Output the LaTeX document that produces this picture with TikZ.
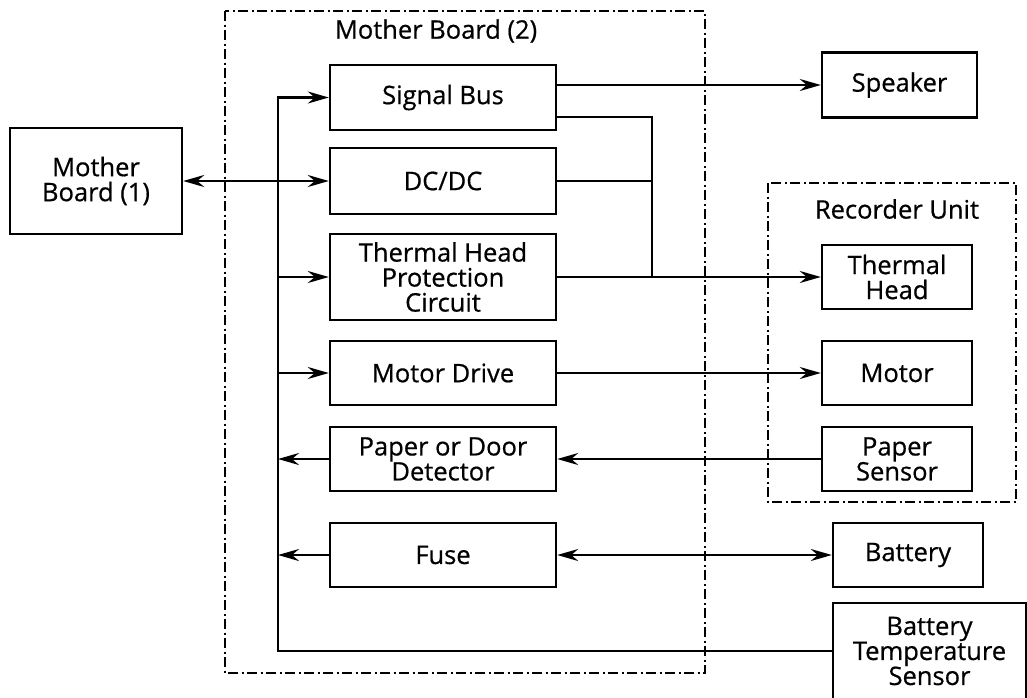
\documentclass[tikz,border=0pt]{standalone}
\usepackage{fontspec}
\setmainfont{Open Sans}[FakeBold=0.6]
\usepackage{tikz}
\usetikzlibrary{arrows.meta,positioning,calc}
\definecolor{bdedge}{RGB}{0,0,0}
\tikzset{
  bdbox/.style={
    draw=bdedge, line width=2.4pt, align=center, inner sep=2pt,
    font=\fontsize{25.5}{25}\selectfont
  },
  blk/.style={bdbox, minimum width=226pt, minimum height=64pt},
  ext/.style={bdbox, minimum width=150pt, minimum height=64pt},
  grp/.style={
    draw=bdedge, line width=2.2pt, dash pattern=on 10pt off 3.5pt on 2pt off 3.5pt
  },
  grplbl/.style={font=\fontsize{25.5}{25}\selectfont},
  arr/.style={-{Stealth[length=21pt,width=12pt,inset=7pt]}, draw=bdedge, line width=2.4pt},
  darr/.style={arr, {Stealth[length=21pt,width=12pt,inset=7pt]}-{Stealth[length=21pt,width=12pt,inset=7pt]}},
  lne/.style={draw=bdedge, line width=2.4pt}
}

\begin{document}
\begin{tikzpicture}[x=1pt, y=-1pt]
  \useasboundingbox (0,0) rectangle (1027,697);

  % group frames
  \draw[grp] (225,11) rectangle (705,673);
  \node[grplbl] (mb2) at (436,31) {Mother Board (2)};
  \draw[grp] (768,183) rectangle (1016,502);
  \node[grplbl] (rec) at (897,209) {Recorder Unit};

  % mother board (2)
  \node[blk, minimum height=65pt] (sig) at (443,97.5) {Signal Bus};
  \node[blk, minimum height=66pt] (dcdc) at (443,181) {DC/DC};
  \node[blk, minimum height=86pt] (thp) at (443,277) {Thermal Head\\Protection\\Circuit};
  \node[blk] (mdrv) at (443,373) {Motor Drive};
  \node[blk] (pdet) at (443,459) {Paper or Door\\Detector};
  \node[blk] (fuse) at (443,555) {Fuse};

  % outside
  \node[bdbox, minimum width=172pt, minimum height=106pt] (mb1) at (96,181) {Mother\\Board (1)};
  \node[ext, minimum width=155pt, minimum height=65pt] (spk) at (899.5,85) {Speaker};
  \node[ext] (thh) at (897,277) {Thermal\\Head};
  \node[ext] (mot) at (897,373) {Motor};
  \node[ext] (psen) at (897,459) {Paper\\Sensor};
  \node[ext] (bat) at (908,555) {Battery};
  \node[bdbox, minimum width=193pt, minimum height=96pt] (bts) at (929.5,651) {Battery\\Temperature\\Sensor};

  \coordinate (bus) at (278,97.5);
  \coordinate (jn) at (652,277);

  % connectors
  \draw[darr] (mb1.east |- dcdc.west) -- (dcdc.west);
  \draw[arr] (bts.west) -| (bus) -- (sig.west);
  \draw[arr] (thp.west -| bus) -- (thp.west);
  \draw[arr] (mdrv.west -| bus) -- (mdrv.west);
  \draw[arr] (pdet.west) -- (pdet.west -| bus);
  \draw[arr] (fuse.west) -- (fuse.west -| bus);
  \draw[arr] (sig.east |- spk.west) -- (spk.west);
  \draw[lne] ([yshift=-19.5pt]sig.east) -| (jn);
  \draw[lne] (dcdc.east) -| (jn);
  \draw[arr] (thp.east) -- (thh.west);
  \draw[arr] (mdrv.east) -- (mot.west);
  \draw[arr] (psen.west) -- (pdet.east);
  \draw[darr] (fuse.east) -- (bat.west);
\end{tikzpicture}
\end{document}
